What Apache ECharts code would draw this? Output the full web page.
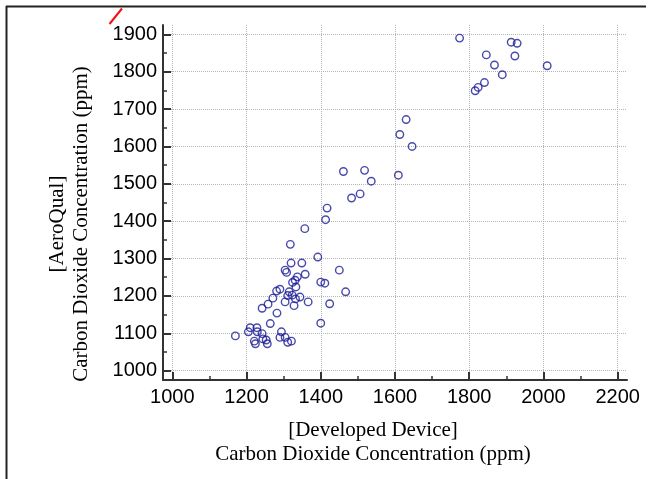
<!DOCTYPE html>
<html>
<head>
<meta charset="utf-8">
<script src="https://cdn.jsdelivr.net/npm/echarts@6/dist/echarts.min.js"></script>
<style>
  html, body { margin: 0; padding: 0; background: #fff; }
  #chart { width: 648px; height: 479px; }
</style>
</head>
<body>
<div id="chart"></div>
<script>
// readings of the developed device (x) vs AeroQual (y), ppm
const deviceX = [
  1413, 1357, 1318, 1392, 1349, 1320, 1304, 1308, 1450, 1358,
  1337, 1331, 1324, 1400, 1411, 1290, 1281, 1333, 1315, 1467,
  1311, 1323, 1344, 1332, 1271, 1304, 1366, 1258, 1328, 1424,
  1242, 1282, 1264, 1400, 1210, 1228, 1205, 1229, 1242, 1294,
  1170, 1290, 1304, 1244, 1253, 1221, 1224, 1256, 1311, 1321,
  1461, 1483, 1417, 1506,
  1774, 1913, 1929, 1846, 1923, 2010, 1868, 1889, 1841, 1824,
  1816, 1630, 1613, 1646, 1518, 1536, 1609
];
const aeroY = [
  1404, 1380, 1338, 1304, 1288, 1288, 1269, 1263, 1269, 1258,
  1251, 1242, 1236, 1237, 1234, 1218, 1213, 1224, 1211, 1211,
  1201, 1202, 1197, 1192, 1194, 1184, 1184, 1178, 1174, 1179,
  1167, 1154, 1126, 1127, 1115, 1115, 1104, 1104, 1099, 1104,
  1093, 1089, 1089, 1085, 1082, 1079, 1072, 1072, 1076, 1079,
  1533, 1462, 1435, 1473,
  1890, 1879, 1876, 1845, 1842, 1816, 1818, 1792, 1771, 1758,
  1749, 1672, 1632, 1600, 1536, 1507, 1523
];

// tick values
const xMajor = [1000, 1200, 1400, 1600, 1800, 2000, 2200];
const xMinor = [1100, 1300, 1500, 1700, 1900, 2100];
const yMajor = [1000, 1100, 1200, 1300, 1400, 1500, 1600, 1700, 1800, 1900];
const yMinor = [1050, 1150, 1250, 1350, 1450, 1550, 1650, 1750, 1850];

const xTitle = '[Developed Device]\nCarbon Dioxide Concentration (ppm)';
const yTitle = '[AeroQual]\nCarbon Dioxide Concentration (ppm)';

const chart = echarts.init(document.getElementById('chart'));

const axisColor = '#333';
const gridLine = { show: true, lineStyle: { color: '#b4b4b4', type: [1, 1], width: 1 } };
const tickFont = {
  color: '#000', fontSize: 20, fontFamily: 'Liberation Sans, Arial, sans-serif',
  formatter: v => String(v) // no thousands separator
};
const titleFont = { color: '#000', fontSize: 21, fontFamily: 'Liberation Serif, Times New Roman, serif', lineHeight: 24 };

const points = deviceX.map((x, i) => [x, aeroY[i]]);

chart.setOption({
  animation: false,
  backgroundColor: '#fff',
  grid: { left: 163, right: 21, top: 25, bottom: 99 },
  xAxis: [
    {
      type: 'value', min: 975, max: 2225, position: 'bottom',
      axisLine: { show: true, lineStyle: { color: axisColor, width: 2 } },
      axisTick: { show: true, inside: true, length: 8, customValues: xMajor, lineStyle: { color: axisColor, width: 2 } },
      axisLabel: Object.assign({ customValues: xMajor, margin: 7 }, tickFont),
      splitLine: gridLine,
      name: xTitle, nameLocation: 'middle', nameGap: 38,
      nameTextStyle: Object.assign({ padding: [0, 44, 0, 0] }, titleFont)
    },
    {
      type: 'value', min: 975, max: 2225, position: 'bottom',
      axisLine: { show: false },
      axisTick: { show: true, inside: true, length: 4, customValues: xMinor, lineStyle: { color: axisColor, width: 1.5 } },
      axisLabel: { show: false },
      splitLine: { show: false }
    }
  ],
  yAxis: [
    {
      type: 'value', min: 975, max: 1925, position: 'left',
      axisLine: { show: true, lineStyle: { color: axisColor, width: 2 } },
      axisTick: { show: true, inside: true, length: 8, customValues: yMajor, lineStyle: { color: axisColor, width: 2 } },
      axisLabel: Object.assign({ customValues: yMajor, margin: 6 }, tickFont),
      splitLine: gridLine,
      name: yTitle, nameLocation: 'middle', nameGap: 70, nameRotate: 90,
      nameTextStyle: Object.assign({ padding: [0, 43, 0, 0] }, titleFont)
    },
    {
      type: 'value', min: 975, max: 1925, position: 'left',
      axisLine: { show: false },
      axisTick: { show: true, inside: true, length: 4, customValues: yMinor, lineStyle: { color: axisColor, width: 1.5 } },
      axisLabel: { show: false },
      splitLine: { show: false }
    }
  ],
  series: [{
    type: 'scatter',
    xAxisIndex: 0, yAxisIndex: 0,
    data: points,
    symbol: 'circle',
    symbolSize: 7.5,
    itemStyle: { color: 'rgba(0,0,0,0)', borderColor: '#1c1c96', borderWidth: 1.4 }
  }],
  graphic: [
    // figure frame (top + left edge)
    { type: 'line', shape: { x1: 6, y1: 6.5, x2: 646, y2: 6.5 }, style: { stroke: '#222', lineWidth: 2 }, silent: true },
    { type: 'line', shape: { x1: 6.5, y1: 6, x2: 6.5, y2: 479 }, style: { stroke: '#222', lineWidth: 2 }, silent: true },
    // red stroke near the top-left
    { type: 'line', shape: { x1: 109.5, y1: 24, x2: 122, y2: 8.5 }, style: { stroke: '#ee1111', lineWidth: 2 }, silent: true }
  ]
});
</script>
</body>
</html>
